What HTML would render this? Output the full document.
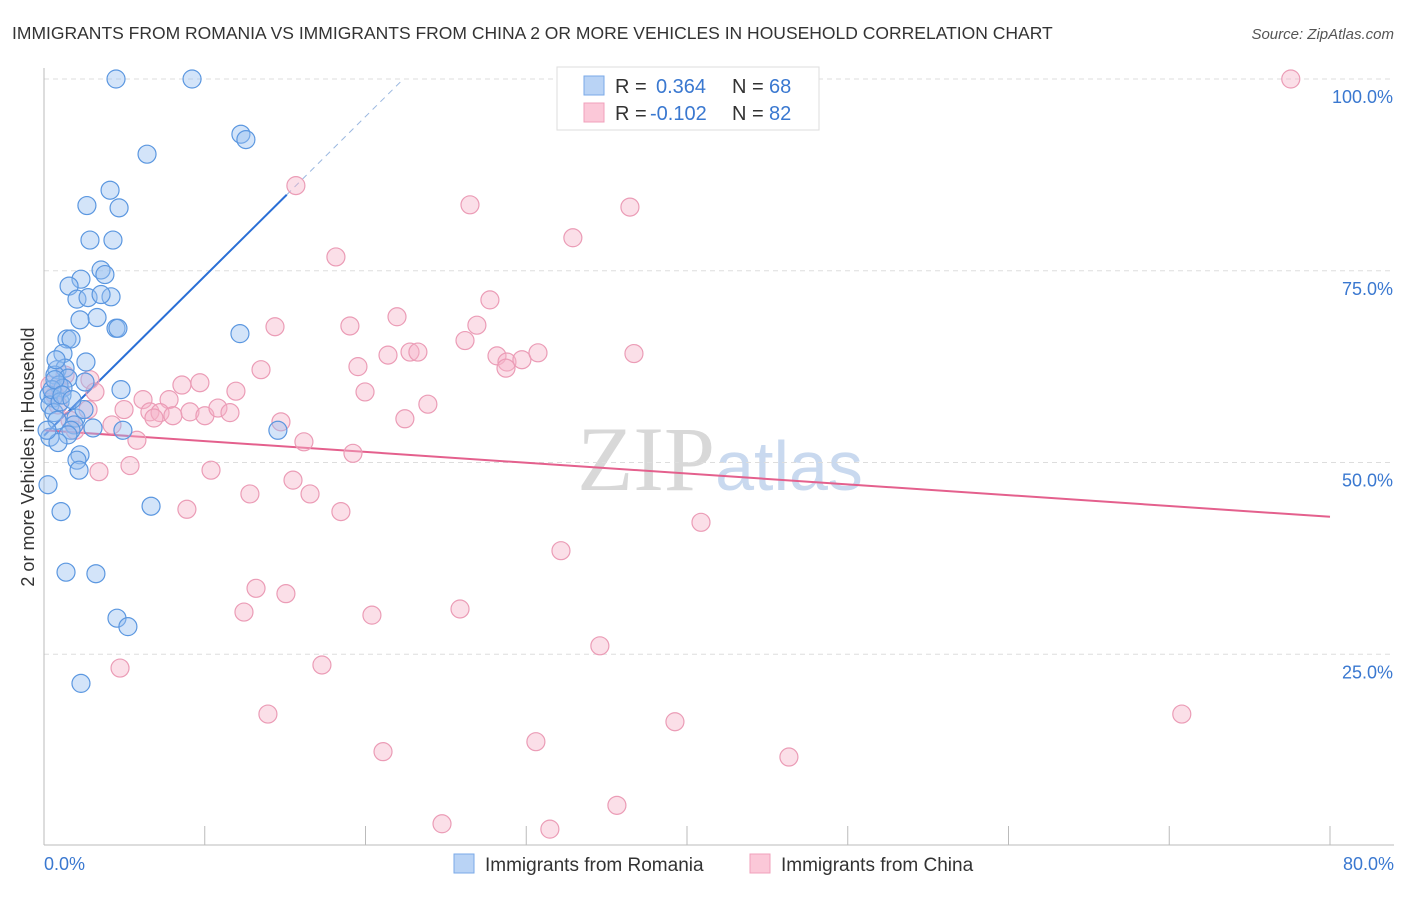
<!DOCTYPE html>
<html><head><meta charset="utf-8"><style>
body{margin:0;background:#fff;font-family:"Liberation Sans",sans-serif;}
svg text{font-family:"Liberation Sans",sans-serif;}
</style></head><body>
<svg id="c" width="1406" height="892" xmlns="http://www.w3.org/2000/svg">
<text x="12" y="39" font-size="17.5" fill="#333">IMMIGRANTS FROM ROMANIA VS IMMIGRANTS FROM CHINA 2 OR MORE VEHICLES IN HOUSEHOLD CORRELATION CHART</text>
<text x="1394" y="39" font-size="15" fill="#555" font-style="italic" text-anchor="end">Source: ZipAtlas.com</text>
<text transform="translate(34,457) rotate(-90)" font-size="18" fill="#333" text-anchor="middle">2 or more Vehicles in Household</text>
<text x="720" y="490" font-size="92" fill="#ddd" text-anchor="middle" font-family="Liberation Serif"><tspan fill="#d8d8d8" font-family="Liberation Serif">ZIP</tspan><tspan fill="#c9d9ef" font-size="70" font-family="Liberation Sans">atlas</tspan></text>
<g id="grid"></g><g id="axes"></g><g id="trend"></g><g id="pts"></g>
<g>
<rect x="557" y="67" width="262" height="63" fill="#fff" stroke="#ddd"/>
<rect x="584" y="76" width="20" height="19" fill="#b9d3f5" stroke="#7aaae8"/>
<rect x="584" y="103" width="20" height="19" fill="#fbc8d8" stroke="#f0a0bb"/>
<text x="615" y="93" font-size="20" fill="#333">R = </text><text x="656" y="93" font-size="20" fill="#3a78d0">0.364</text>
<text x="732" y="93" font-size="20" fill="#333">N = </text><text x="769" y="93" font-size="20" fill="#3a78d0">68</text>
<text x="615" y="120" font-size="20" fill="#333">R = </text><text x="650" y="120" font-size="20" fill="#3a78d0">-0.102</text>
<text x="732" y="120" font-size="20" fill="#333">N = </text><text x="769" y="120" font-size="20" fill="#3a78d0">82</text>
</g>
<g>
<rect x="454" y="854" width="20" height="19" fill="#b9d3f5" stroke="#7aaae8"/>
<text x="485" y="871" font-size="19" fill="#333">Immigrants from Romania</text>
<rect x="750" y="854" width="20" height="19" fill="#fbc8d8" stroke="#f0a0bb"/>
<text x="781" y="871" font-size="19" fill="#333">Immigrants from China</text>
</g>
</svg>
<script>
const yTicks=[100,75,50,25];
const yTickLabels=["100.0%","75.0%","50.0%","25.0%"];
const xTickVals=[0,10,20,30,40,50,60,70,80];
const xEndLabels=["0.0%","80.0%"];
const romaniaX=[4.48,9.21,6.41,12.25,12.56,4.11,2.67,4.67,2.86,4.29,3.55,3.79,2.30,1.56,2.05,2.74,4.17,3.55,3.30,2.24,4.48,4.60,12.19,1.43,1.68,1.18,2.61,0.81,1.31,0.68,1.49,0.93,4.79,1.18,0.31,0.56,2.55,0.37,0.62,1.99,1.87,2.49,0.81,1.68,3.05,4.91,1.49,0.37,0.87,2.24,2.05,2.18,14.55,0.25,1.06,6.66,1.37,3.23,4.54,5.22,2.30,0.50,0.68,0.19,1.00,1.12,1.74,0.75];
const romaniaY=[100,100,90.2,92.8,92.1,85.5,83.5,83.2,79.0,79.0,75.1,74.5,73.9,73.0,71.3,71.5,71.6,71.9,68.9,68.6,67.5,67.5,66.8,66.1,66.1,64.2,63.1,62.1,62.3,61.4,61.0,60.1,59.5,59.7,58.8,58.4,60.5,57.5,56.5,55.8,54.9,56.9,55.5,54.2,54.5,54.2,53.6,53.3,52.6,51.0,50.3,49.0,54.2,47.1,43.6,44.3,35.7,35.5,29.7,28.6,21.2,59.5,60.8,54.2,57.9,58.8,58.2,63.4];
const chinaX=[77.56,15.67,26.50,36.45,32.90,18.16,27.74,21.96,14.37,19.03,26.93,26.19,21.40,22.77,23.26,28.18,28.80,29.73,30.73,36.70,13.50,19.53,28.74,2.86,1.00,8.58,9.70,3.17,11.94,19.97,6.16,7.78,2.74,4.98,6.59,7.22,9.08,10.01,10.82,11.57,6.84,8.02,23.88,22.45,4.23,14.74,5.78,16.17,19.22,5.35,3.42,10.39,15.49,12.81,16.55,8.89,18.47,40.87,32.16,13.19,15.05,12.44,20.40,25.88,34.58,4.73,17.29,13.93,70.78,39.25,30.60,21.09,46.34,35.64,24.76,31.47,0.68,0.37,1.62,0.87,1.93,1.31];
const chinaY=[100,86.1,83.6,83.3,79.3,76.8,71.2,69.0,67.7,67.8,67.9,65.9,64.0,64.4,64.4,63.9,63.1,63.4,64.3,64.2,62.1,62.5,62.3,60.8,59.5,60.1,60.4,59.2,59.3,59.2,58.2,58.2,56.9,56.9,56.6,56.5,56.6,56.1,57.1,56.5,55.8,56.1,57.6,55.7,54.9,55.3,52.9,52.7,51.2,49.6,48.8,49.0,47.7,45.9,45.9,43.9,43.6,42.2,38.5,33.6,32.9,30.5,30.1,30.9,26.1,23.2,23.6,17.2,17.2,16.2,13.6,12.3,11.6,5.3,2.9,2.2,58.8,60.1,55.5,57.5,54.2,61.4];
const romaniaTrend=[53.5,2.08]; // intercept, slope
const chinaTrend=[54.2,-0.141];
const X0=44,X1=1330,Y0=846,YTOP=79;
const sx=v=>X0+v/80*(X1-X0);
const sy=v=>Y0-v/100*(Y0-YTOP);
const NS="http://www.w3.org/2000/svg";
function mk(tag,attrs,parent){const e=document.createElementNS(NS,tag);for(const k in attrs)e.setAttribute(k,attrs[k]);parent.appendChild(e);return e;}
const grid=document.getElementById('grid'),axes=document.getElementById('axes'),trend=document.getElementById('trend'),pts=document.getElementById('pts');
yTicks.forEach((t,i)=>{
 const l=mk('line',{x1:X0,x2:1394,y1:sy(t),y2:sy(t),stroke:'#ddd','stroke-dasharray':'5,4'},grid);
 
 
 const tx=mk('text',{x:1393,y:sy(t)+24,'font-size':18,fill:'#3a78d0','text-anchor':'end'},axes);
 tx.textContent=yTickLabels[i];
 
 
});
const ax=mk('line',{x1:X0,x2:X0,y1:68,y2:845,stroke:'#bbb'},axes);


const bx=mk('line',{x1:X0,x2:1394,y1:845,y2:845,stroke:'#bbb'},axes);


xTickVals.forEach(v=>{
 const t=mk('line',{x1:sx(v),x2:sx(v),y1:826,y2:845,stroke:'#bbb'},axes);
 
 
});
[[0,'start',44],[80,'end',1394]].forEach((d,i)=>{
 const t=mk('text',{x:d[2],y:870,'font-size':18,fill:'#3a78d0','text-anchor':d[1]},axes);
 t.textContent=xEndLabels[i];
 
 
});
function dot(x,y,fill,stroke,name){
 const c=mk('circle',{cx:sx(x),cy:sy(y),r:9,fill:fill,stroke:stroke,'stroke-width':1.2},pts);
 
 
}
chinaX.forEach((x,i)=>dot(x,chinaY[i],'rgba(246,178,200,0.42)','#eb9cb6','china-point'));
romaniaX.forEach((x,i)=>dot(x,romaniaY[i],'rgba(150,190,240,0.42)','#5b97e0','romania-point'));
const bxEnd=15.1, byEnd=romaniaTrend[0]+romaniaTrend[1]*bxEnd;
const xDash=(100-romaniaTrend[0])/romaniaTrend[1];
const b1=mk('line',{x1:sx(0),y1:sy(romaniaTrend[0]),x2:sx(bxEnd),y2:sy(byEnd),stroke:'#2a6fd6','stroke-width':2},trend);


const b2=mk('line',{x1:sx(bxEnd),y1:sy(byEnd),x2:sx(xDash),y2:sy(100),stroke:'#9bb8e0','stroke-width':1,'stroke-dasharray':'6,5'},trend);


const p1=mk('line',{x1:sx(0),y1:sy(chinaTrend[0]),x2:sx(80),y2:sy(chinaTrend[0]+chinaTrend[1]*80),stroke:'#e4608d','stroke-width':2},trend);


</script>
</body></html>
